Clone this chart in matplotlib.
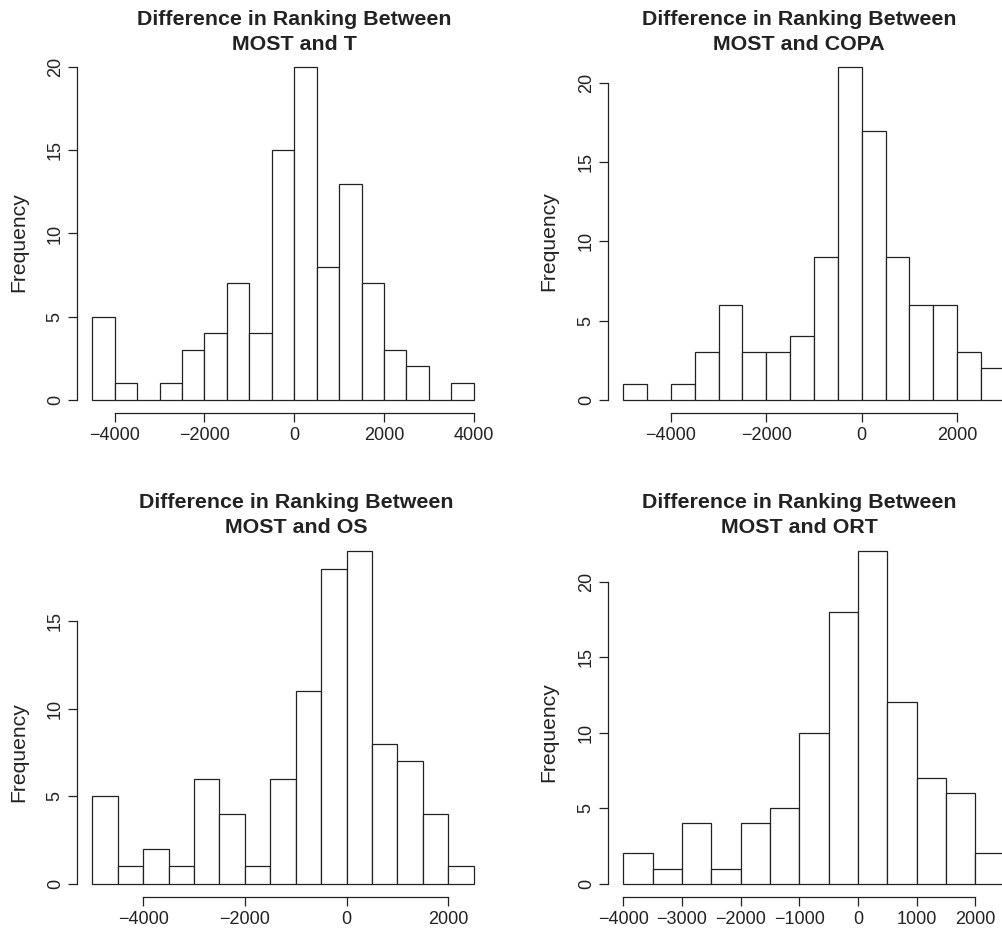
import numpy as np
import matplotlib
matplotlib.use("Agg")
import matplotlib.pyplot as plt

# histogram counts, bins of width 500 starting at bin_start
bin_width = 500
titles = ["MOST and T", "MOST and COPA", "MOST and OS", "MOST and ORT"]
bin_start = [-4500, -5000, -5000, -4000]
counts_t = [5, 1, 0, 1, 3, 4, 7, 4, 15, 20, 8, 13, 7, 3, 2, 0, 1]
counts_copa = [1, 0, 1, 3, 6, 3, 3, 4, 9, 21, 17, 9, 6, 6, 3, 2]
counts_os = [5, 1, 2, 1, 6, 4, 1, 6, 11, 18, 19, 8, 7, 4, 1]
counts_ort = [2, 1, 4, 1, 4, 5, 10, 18, 22, 12, 7, 6, 2]
all_counts = [counts_t, counts_copa, counts_os, counts_ort]
xticks = [[-4000, -2000, 0, 2000, 4000],
          [-4000, -2000, 0, 2000],
          [-4000, -2000, 0, 2000],
          [-4000, -3000, -2000, -1000, 0, 1000, 2000]]
yticks = [[0, 5, 10, 15, 20],
          [0, 5, 10, 15, 20],
          [0, 5, 10, 15],
          [0, 5, 10, 15, 20]]

W, H = 1002.0, 931.0
INK = "#222222"
plt.rcParams['font.family'] = ['Liberation Sans', 'DejaVu Sans']

fig = plt.figure(figsize=(W / 100, H / 100), dpi=100)

# pixel layout of each panel: left, top, plot width, plot height
boxes = [(77, 54, 412, 359), (608, 54, 412, 359),
         (77, 538, 412, 359), (608, 538, 412, 359)]
title_x = [294.5, 799, 296, 799]
title_y = [(25, 50), (25, 50), (508, 533), (508, 533)]
ylab_pos = [(19, 242), (549, 241), (19, 752), (549, 732)]

for i in range(4):
    l, t, w, h = boxes[i]
    ax = fig.add_axes([l / W, 1 - (t + h) / H, w / W, h / H])
    counts = np.array(all_counts[i])
    edges = bin_start[i] + bin_width * np.arange(len(counts) + 1)
    ax.bar(edges[:-1], counts, width=bin_width, align='edge',
           facecolor='white', edgecolor=INK, linewidth=0.9)
    xr = edges[-1] - edges[0]
    ax.set_xlim(edges[0] - 0.04 * xr, edges[-1] + 0.04 * xr)
    ax.set_ylim(-0.04 * counts.max(), counts.max() * 1.04)

    for s in ['top', 'right']:
        ax.spines[s].set_visible(False)
    ax.spines['left'].set_bounds(yticks[i][0], yticks[i][-1])
    ax.spines['bottom'].set_bounds(xticks[i][0], xticks[i][-1])
    for s in ['left', 'bottom']:
        ax.spines[s].set_color(INK)
        ax.spines[s].set_linewidth(0.9)

    ax.set_xticks(xticks[i])
    ax.set_yticks(yticks[i])
    ax.tick_params(axis='both', direction='out', length=6.5, width=0.9,
                   color=INK, labelsize=13, labelcolor=INK)
    ax.tick_params(axis='x', pad=3.5)
    ax.tick_params(axis='y', labelrotation=90, pad=3)
    for lab in ax.get_yticklabels():
        lab.set_va('center')

    fig.text(title_x[i] / W, 1 - title_y[i][0] / H, "Difference in Ranking Between",
             ha='center', va='baseline', fontsize=15.4, fontweight='bold', color=INK)
    fig.text(title_x[i] / W, 1 - title_y[i][1] / H, titles[i],
             ha='center', va='baseline', fontsize=15.4, fontweight='bold', color=INK)
    fig.text(ylab_pos[i][0] / W, 1 - ylab_pos[i][1] / H, "Frequency",
             rotation=90, ha='center', va='center', fontsize=15.2, color=INK)

fig.savefig("out.png", dpi=100)
